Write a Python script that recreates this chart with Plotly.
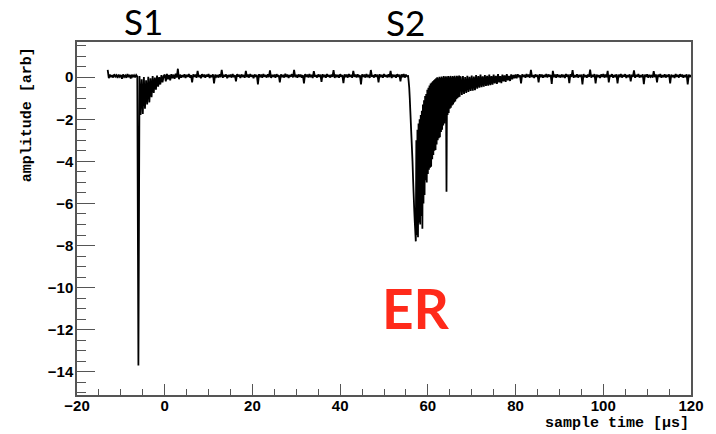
import numpy as np
import plotly.graph_objects as go

# segment start times [us] and sample spacing of each segment [us]
seg_starts = [-13.0, -6.0, 0.0, 55.5, 67.5, 80.0]
seg_dt = [0.25, 0.25, 0.25, 0.125, 0.25, 0.25]

pre_s1 = [0.35,-0.05,0.12,0.0,0.1,-0.02,0.14,0.03,0.09,-0.04,
          0.12,0.02,0.1,-0.08,0.13,0.01,0.08,-0.03,0.15,0.0,
          0.11,-0.06,0.12,0.02,0.09,-0.01,0.1,0.03]

s1_pulse = [-13.7,0.05,-1.8,-0.1,-1.75,0.0,-1.5,-0.15,-1.3,0.02,
            -1.2,-0.05,-0.95,0.05,-0.75,-0.02,-0.6,0.08,-0.45,0.0,
            -0.35,0.1,-0.25,0.05]

mid_baseline = [
    0.12,-0.2,0.15,-0.1,0.1,-0.15,0.14,-0.05,0.12,-0.08,
    0.16,-0.02,0.4,-0.1,0.12,-0.03,0.1,0.0,0.14,-0.04,
    0.11,0.01,0.15,-0.02,0.09,-0.25,0.13,0.02,0.12,-0.03,
    0.3,0.0,0.1,-0.05,0.14,0.01,0.12,-0.02,0.11,0.03,
    0.15,-0.04,0.1,0.0,0.13,-0.3,0.12,0.02,0.1,-0.02,
    0.14,0.0,0.35,-0.03,0.11,0.02,0.13,-0.05,0.1,0.01,
    0.12,-0.02,0.15,0.0,0.09,-0.2,0.14,0.03,0.11,-0.04,
    0.13,0.01,0.1,-0.03,0.3,0.0,0.12,-0.02,0.15,0.02,
    0.1,-0.05,0.13,0.01,0.11,-0.35,0.14,0.0,0.12,-0.03,
    0.15,0.02,0.1,-0.02,0.13,0.0,0.32,-0.04,0.11,0.01,
    0.12,-0.03,0.14,0.02,0.1,-0.25,0.13,0.0,0.11,-0.02,
    0.16,0.01,0.12,-0.04,0.1,0.02,0.14,-0.01,0.35,0.0,
    0.11,-0.03,0.13,0.01,0.12,-0.02,0.1,-0.3,0.14,0.02,
    0.12,-0.01,0.15,0.0,0.11,-0.04,0.28,0.02,0.1,-0.02,
    0.13,0.01,0.12,-0.22,0.14,0.0,0.11,-0.03,0.15,0.02,
    0.1,-0.02,0.13,0.01,0.33,-0.04,0.12,0.0,0.11,-0.03,
    0.14,0.02,0.1,-0.28,0.13,0.0,0.12,-0.02,0.15,0.01,
    0.11,-0.03,0.3,0.02,0.12,-0.01,0.14,0.0,0.1,-0.35,
    0.13,0.01,0.12,-0.02,0.15,0.0,0.11,-0.04,0.34,0.02,
    0.1,-0.02,0.13,0.01,0.12,-0.25,0.14,0.0,0.11,-0.03,
    0.15,0.02,0.1,-0.01,0.13,0.0,0.3,-0.04,0.12,0.01,
    0.11,-0.03,0.14,0.02,0.12,-0.2,0.13,0.0,0.15,-0.02,
    0.12,0.04]

s2_core = [
    0.05,-0.2,-0.5,-1.0,-1.6,-2.2,-2.8,-3.4,-4.0,-4.8,
    -5.5,-6.2,-6.8,-7.3,-7.8,-3.0,-7.5,-2.5,-7.6,-2.2,
    -6.9,-2.0,-7.0,-1.8,-6.6,-1.6,-7.2,-1.3,-6.0,-1.1,
    -5.6,-0.9,-4.9,-0.8,-5.0,-0.6,-4.6,-0.5,-4.4,-0.4,
    -4.3,-0.3,-4.26,-0.25,-3.9,-0.2,-3.7,-0.15,-3.5,-0.1,
    -3.46,-0.05,-3.2,0.0,-3.0,-0.05,-2.9,0.02,-2.85,-0.03,
    -2.6,0.03,-2.5,-0.02,-2.3,0.05,-2.2,0.0,-2.0,0.04,
    -5.44,0.0,-1.8,0.05,-1.7,0.0,-1.5,0.06,-1.45,0.0,
    -1.35,0.05,-1.3,0.02,-1.2,0.07,-1.15,0.0,-1.05,0.06,
    -1.0,0.03,-0.95,0.08,-0.93,0.02]

s2_tail = [
    0.0,-0.85,
    0.05,-0.8,0.0,-0.75,0.06,-0.7,0.02,-0.66,0.08,-0.64,
    0.03,-0.62,0.1,-0.55,0.05,-0.5,0.12,-0.48,0.04,-0.45,
    0.1,-0.42,0.06,-0.4,0.12,-0.38,0.05,-0.36,0.12,-0.3,
    0.06,-0.32,0.14,-0.25,0.05,-0.28,0.12,-0.2,0.08,-0.22,
    0.14,-0.15,0.06,-0.18,0.13,-0.1,0.1,-0.05]

post_baseline = [
    0.12,-0.05,0.14,0.0,0.1,-0.3,0.13,0.02,0.11,-0.03,
    0.15,0.01,0.12,-0.02,0.35,0.0,0.1,-0.04,0.13,0.02,
    0.11,-0.25,0.14,0.0,0.12,-0.03,0.1,0.01,0.15,-0.02,
    0.13,0.02,0.11,-0.32,0.3,0.0,0.12,-0.03,0.14,0.01,
    0.1,-0.02,0.13,0.0,0.11,-0.04,0.15,0.02,0.12,-0.28,
    0.14,0.01,0.33,-0.03,0.1,0.0,0.13,-0.02,0.11,0.02,
    0.12,-0.35,0.15,0.0,0.1,-0.03,0.13,0.01,0.36,-0.02,
    0.11,0.02,0.14,-0.3,0.12,0.0,0.1,-0.04,0.13,0.01,
    0.15,-0.02,0.12,0.0,0.3,-0.25,0.11,0.02,0.14,-0.03,
    0.1,0.01,0.13,-0.3,0.12,0.0,0.15,-0.02,0.11,0.02,
    0.14,-0.04,0.1,0.0,0.13,-0.2,0.12,0.01,0.32,-0.03,
    0.11,0.02,0.15,-0.02,0.1,0.0,0.13,-0.33,0.12,0.01,
    0.14,-0.03,0.11,0.02,0.1,-0.02,0.28,0.0,0.13,-0.25,
    0.12,0.01,0.15,-0.03,0.1,0.0,0.14,-0.02,0.11,0.02,
    0.13,-0.3,0.12,0.0,0.1,-0.04,0.15,0.01,0.11,-0.02,
    0.14,0.02,0.12,-0.03,0.1,0.0,0.13,-0.35,0.12,0.01,
    0.1]

segments = [pre_s1, s1_pulse, mid_baseline, s2_core, s2_tail, post_baseline]
times, amps = [], []
for start, step, seg in zip(seg_starts, seg_dt, segments):
    times.extend(start + step * np.arange(len(seg)))
    amps.extend(seg)

x_ticks = [-20, 0, 20, 40, 60, 80, 100, 120]
y_ticks = [-14, -12, -10, -8, -6, -4, -2, 0]

fig = go.Figure()
fig.add_trace(go.Scatter(x=times, y=amps, mode="lines",
                         line=dict(color="black", width=1.8, simplify=False),
                         showlegend=False, hoverinfo="skip"))

axcol = "#555555"
tickfont = dict(family="Liberation Sans", size=15, color="black", weight="bold")
fig.update_xaxes(range=[-20, 120], tickvals=x_ticks, ticks="inside", ticklen=11,
                 tickwidth=1.3, tickcolor=axcol, showline=True, linecolor=axcol,
                 linewidth=1.5, mirror=True, showgrid=False, zeroline=False,
                 tickfont=tickfont, ticklabelstandoff=-4,
                 minor=dict(dtick=5, ticks="inside", ticklen=6, tickcolor=axcol,
                            tickwidth=1.3, showgrid=False))
fig.update_yaxes(range=[-15.1, 1.67], tickvals=y_ticks, ticks="inside", ticklen=18,
                 tickwidth=1.3, tickcolor=axcol, showline=True, linecolor=axcol,
                 linewidth=1.5, mirror=True, showgrid=False, zeroline=False,
                 tickfont=tickfont, ticklabelstandoff=-1,
                 minor=dict(dtick=0.5, ticks="inside", ticklen=9, tickcolor=axcol,
                            tickwidth=1.3, showgrid=False))

ph = 353.0
pw = 616.0
titlefont = dict(family="Liberation Mono", size=15, color="black", weight="bold")
fig.add_annotation(text="sample time [μs]", xref="paper", yref="paper",
                   x=1.0, y=-(423 - 395) / ph, xanchor="right", yanchor="middle",
                   showarrow=False, font=titlefont)
fig.add_annotation(text="amplitude [arb]", xref="paper", yref="paper",
                   x=(27.5 - 77) / pw, y=(395 - 45) / ph, xanchor="center",
                   yanchor="top", textangle=-90, showarrow=False, font=titlefont)

labfont = dict(family="Lato", size=35, color="black")
fig.add_annotation(text="S1", x=-4.9, xref="x", yref="paper",
                   y=(395 - 21) / ph, showarrow=False, font=labfont,
                   xanchor="center", yanchor="middle")
fig.add_annotation(text="S2", x=55.0, xref="x", yref="paper",
                   y=(395 - 22) / ph, showarrow=False, font=labfont,
                   xanchor="center", yanchor="middle")
fig.add_annotation(text="ER", x=57.4, y=-10.95, xref="x", yref="y",
                   showarrow=False, xanchor="center", yanchor="middle",
                   font=dict(family="Lato", size=55, color="#FF2A1A", weight="bold"))

fig.update_layout(width=716, height=434, margin=dict(l=77, r=23, t=42, b=39),
                  plot_bgcolor="white", paper_bgcolor="white")

fig.write_html("out.html")
